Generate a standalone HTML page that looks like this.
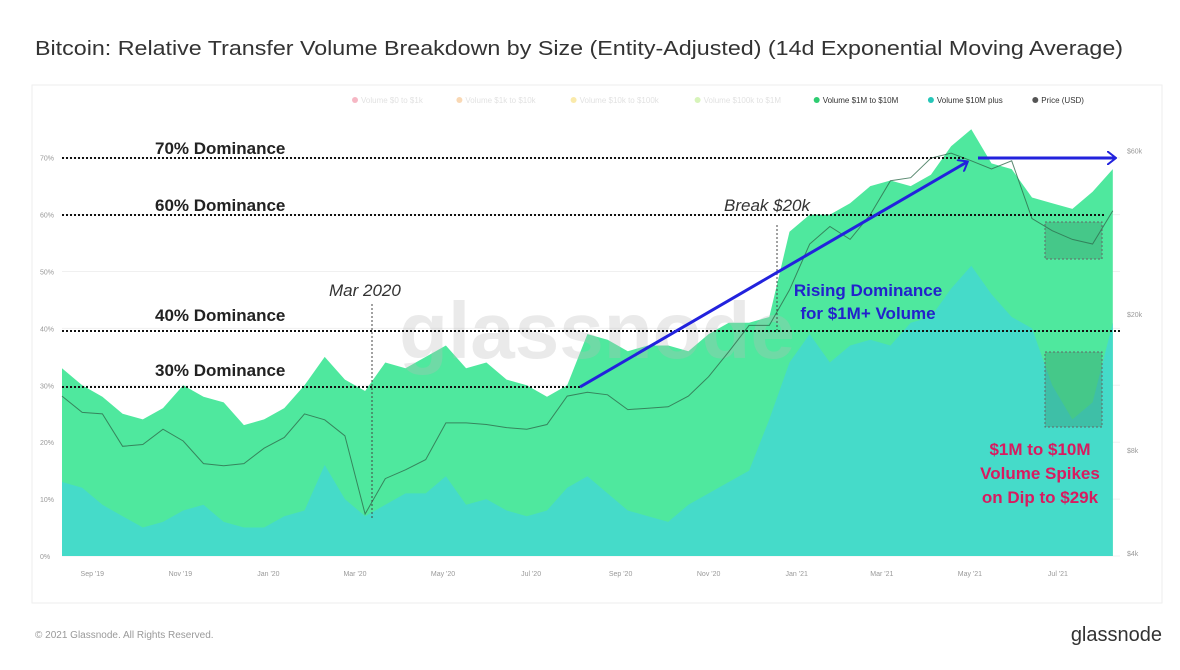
<!DOCTYPE html>
<html><head><meta charset="utf-8"><style>
body{margin:0;background:#fff;font-family:"Liberation Sans",sans-serif;}
</style></head><body>
<svg width="1180" height="670" xmlns="http://www.w3.org/2000/svg" id="svg" style="display:block">
<rect width="1180" height="670" fill="#fff"/>
<text x="35" y="55" font-size="20" fill="#333" textLength="1088" lengthAdjust="spacingAndGlyphs">Bitcoin: Relative Transfer Volume Breakdown by Size (Entity-Adjusted) (14d Exponential Moving Average)</text>
<rect x="32" y="85" width="1130" height="518" fill="none" stroke="#eee"/>
<g id="grid"></g>
<g id="areas"></g>
<text x="597" y="358" font-size="80" fill="#bbb" fill-opacity="0.3" text-anchor="middle" font-weight="bold">glassnode</text>
<g id="price"></g>
<g id="legend" font-size="8"></g>
<g id="axes" font-size="7" fill="#999"></g>
<g id="annot"></g>
<text x="35" y="638" font-size="10" fill="#999">© 2021 Glassnode. All Rights Reserved.</text>
<text x="1162" y="641" font-size="20" fill="#333" text-anchor="end">glassnode</text>
</svg>
<script>
// biweekly samples starting 2019-08-11
const greenTop=[33,30,28,25,24,26,30,28,27,23,24,26,30,35,31,29,34,33,35,37,33,34,31,30,28,30,39,38,36,37,37,36,39,41,41,42,57,60,60,62,65,66,65,67,72,75,69,68,63,62,61,64,68];
const tealTop=[13,12,9,7,5,6,8,9,6,5,5,7,8,16,10,7,9,11,11,14,9,10,8,7,8,12,14,11,8,7,6,9,11,13,15,24,34,39,34,37,38,37,41,42,47,51,46,42,40,30,24,27,41];
const priceK=[11.5,10.3,10.2,8.2,8.3,9.2,8.5,7.3,7.2,7.3,8.1,8.7,10.2,9.8,8.8,5.2,6.6,7.0,7.5,9.6,9.6,9.5,9.3,9.2,9.5,11.5,11.8,11.6,10.5,10.6,10.7,11.5,13.1,15.5,18.5,18.5,23.5,32,36,33,39,49,50,57,59,56,53,56,38,35,33,32,40];
const yTicks=[0,10,20,30,40,50,60,70];
const priceTicks=[4,8,20,60];
const xLabels=["Sep '19","Nov '19","Jan '20","Mar '20","May '20","Jul '20","Sep '20","Nov '20","Jan '21","Mar '21","May '21","Jul '21"];
const xTickDays=[21,82,143,203,264,325,387,448,509,568,629,690];
const legendItems=[["Volume $0 to $1k","#e8345a",0.35],["Volume $1k to $10k","#f0922a",0.35],["Volume $10k to $100k","#f2c511",0.35],["Volume $100k to $1M","#8fe03c",0.35],["Volume $1M to $10M","#2ecc71",1],["Volume $10M plus","#26c6b8",1],["Price (USD)","#555",1]];

const NS="http://www.w3.org/2000/svg";
const X0=62,X1=1120,DAYS=733;
const xs=d=>X0+(X1-X0)*d/DAYS;
const ys=p=>556-p*5.69;
const yp=k=>553-148.6*Math.log(k/4);
const step=14;
function mk(t,a,parent){const e=document.createElementNS(NS,t);for(const k in a)e.setAttribute(k,a[k]);document.getElementById(parent).appendChild(e);return e;}

yTicks.forEach(t=>{
 const l=mk('line',{x1:X0,x2:X1,y1:ys(t),y2:ys(t),stroke:'#f0f0f0'},'grid');
 
 
 const tx=mk('text',{x:40,y:ys(t)+3},'axes');tx.textContent=t+'%';
 
 
});
priceTicks.forEach(t=>{
 const tx=mk('text',{x:1127,y:yp(t)+3},'axes');tx.textContent='$'+t+'k';
 
 
});
xLabels.forEach((s,i)=>{
 const tx=mk('text',{x:xs(xTickDays[i]),y:576,'text-anchor':'middle'},'axes');tx.textContent=s;
 
 
});
function area(arr,color,name){
 let d='M'+xs(0)+','+ys(0);
 arr.forEach((v,i)=>{d+=' L'+xs(Math.min(i*step,DAYS)).toFixed(1)+','+ys(v).toFixed(1);});
 d+=' L'+xs(Math.min((arr.length-1)*step,DAYS))+','+ys(0)+'Z';
 const p=mk('path',{d:d,fill:color},'areas');
 
 
}
area(greenTop,'#4fe89e','area-1m-to-10m');
area(tealTop,'#45dbc9','area-10m-plus');
let pd='';
priceK.forEach((v,i)=>{pd+=(i?' L':'M')+xs(Math.min(i*step,DAYS)).toFixed(1)+','+yp(v).toFixed(1);});
const pl=mk('path',{d:pd,fill:'none',stroke:'#2f6b4c','stroke-width':1,'stroke-opacity':0.8},'price');



let lx=355;
legendItems.forEach(([s,c,o])=>{
 const g=mk('g',{opacity:o},'legend');
 
 
 const ci=document.createElementNS(NS,'circle');ci.setAttribute('cx',lx);ci.setAttribute('cy',100);ci.setAttribute('r',3);ci.setAttribute('fill',c);g.appendChild(ci);
 const t=document.createElementNS(NS,'text');t.setAttribute('x',lx+6);t.setAttribute('y',103);t.setAttribute('fill',o<1?'#aaa':'#333');t.textContent=s;g.appendChild(t);
 lx+=s.length*4.9+26;
});

const A=document.getElementById('annot');
A.innerHTML=`
<defs><marker id="ah" markerWidth="10" markerHeight="14" refX="8" refY="7" orient="auto" markerUnits="userSpaceOnUse"><path d="M0,0 L9,7 L0,14" fill="none" stroke="#2222dd" stroke-width="2"/></marker></defs>
<line x1="62" x2="965" y1="158" y2="158" stroke="#111" stroke-width="2" stroke-dasharray="2,2"/>
<line x1="62" x2="1105" y1="215" y2="215" stroke="#111" stroke-width="2" stroke-dasharray="2,2"/>
<line x1="62" x2="1120" y1="331" y2="331" stroke="#111" stroke-width="2" stroke-dasharray="2,2"/>
<line x1="62" x2="580" y1="387" y2="387" stroke="#111" stroke-width="2" stroke-dasharray="2,2"/>
<g font-size="17" font-weight="bold" fill="#222">
<text x="155" y="154">70% Dominance</text>
<text x="155" y="211">60% Dominance</text>
<text x="155" y="321">40% Dominance</text>
<text x="155" y="376">30% Dominance</text></g>
<line x1="372" x2="372" y1="304" y2="520" stroke="#444" stroke-dasharray="2,2"/>
<text x="329" y="296" font-size="17" font-style="italic" fill="#333">Mar 2020</text>
<line x1="777" x2="777" y1="225" y2="330" stroke="#444" stroke-dasharray="2,2"/>
<text x="724" y="211" font-size="17" font-style="italic" fill="#333">Break $20k</text>
<line x1="580" y1="387" x2="967" y2="162" stroke="#2222dd" stroke-width="3" marker-end="url(#ah)"/>
<line x1="978" y1="158" x2="1115" y2="158" stroke="#2222dd" stroke-width="3" marker-end="url(#ah)"/>
<g font-size="17" font-weight="bold" fill="#2222cc" text-anchor="middle">
<text x="868" y="296">Rising Dominance</text>
<text x="868" y="319">for $1M+ Volume</text></g>
<rect x="1045" y="222" width="57" height="37" fill="#2e7d5b" fill-opacity="0.3" stroke="#666" stroke-dasharray="2,2"/>
<rect x="1045" y="352" width="57" height="75" fill="#2e7d5b" fill-opacity="0.3" stroke="#666" stroke-dasharray="2,2"/>
<g font-size="17" font-weight="bold" fill="#d81b60" text-anchor="middle">
<text x="1040" y="455">$1M to $10M</text>
<text x="1040" y="479">Volume Spikes</text>
<text x="1040" y="503">on Dip to $29k</text></g>`;
</script>
</body></html>
